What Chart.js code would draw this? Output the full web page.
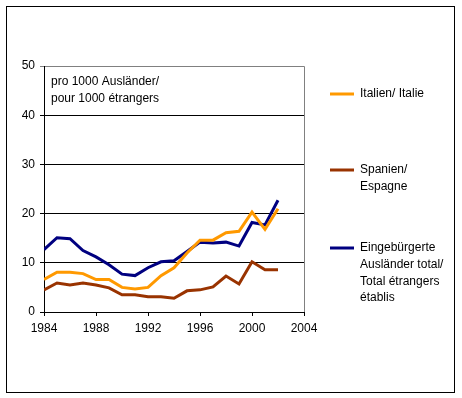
<!DOCTYPE html>
<html>
<head>
<meta charset="utf-8">
<script src="https://cdn.jsdelivr.net/npm/chart.js@4/dist/chart.umd.min.js"></script>
<style>
  html, body { margin: 0; padding: 0; background: #fff; }
  #wrap { position: relative; width: 462px; height: 398px; }
</style>
</head>
<body>
<div id="wrap"><canvas id="chart" width="462" height="398"></canvas></div>
<script>
// data
const years = [1984, 1985, 1986, 1987, 1988, 1989, 1990, 1991, 1992, 1993,
               1994, 1995, 1996, 1997, 1998, 1999, 2000, 2001, 2002];
const italien = [6.6, 8.1, 8.1, 7.8, 6.6, 6.6, 5.0, 4.7, 5.0, 7.4,
                 9.0, 12.0, 14.6, 14.6, 16.1, 16.4, 20.3, 16.8, 21.0];
const spanien = [4.5, 5.9, 5.5, 5.9, 5.5, 4.9, 3.5, 3.5, 3.1, 3.1,
                 2.8, 4.3, 4.5, 5.1, 7.3, 5.7, 10.2, 8.6, 8.6];
const total = [12.7, 15.1, 14.9, 12.5, 11.2, 9.6, 7.7, 7.4, 9.0, 10.2,
               10.4, 12.3, 14.2, 14.0, 14.2, 13.4, 18.2, 17.7, 22.7];
const seriesLabels = [
  ["Italien/ Italie"],
  ["Spanien/", "Espagne"],
  ["Eingebürgerte", "Ausländer total/", "Total étrangers", "établis"]
];
const noteLines = ["pro 1000 Ausländer/", "pour 1000 étrangers"];

const FONT = "12px 'Liberation Sans', Arial, sans-serif";

const toPoints = arr => arr.map((v, i) => ({ x: years[i], y: v }));

// frame, plot border, note and legend
const decor = {
  id: "decor",
  beforeDraw(chart) {
    const { ctx, chartArea: a } = chart;
    ctx.save();
    ctx.fillStyle = "#fff";
    ctx.fillRect(0, 0, chart.width, chart.height);
    ctx.strokeStyle = "#000";
    ctx.lineWidth = 1;
    ctx.strokeRect(6.5, 6.5, 448, 386);
    ctx.strokeStyle = "#808080";
    ctx.beginPath();
    ctx.moveTo(a.left, a.top + 0.5);
    ctx.lineTo(a.right + 0.5, a.top + 0.5);
    ctx.lineTo(a.right + 0.5, a.bottom);
    ctx.stroke();
    ctx.restore();
  },
  afterDraw(chart) {
    const { ctx, chartArea: a } = chart;
    ctx.save();
    ctx.font = FONT;
    ctx.fillStyle = "#000";
    ctx.textBaseline = "middle";
    noteLines.forEach((t, i) => ctx.fillText(t, a.left + 7, 82 + i * 17));

    const starts = [94, 170, 248];
    chart.data.datasets.forEach((ds, i) => {
      const y = starts[i];
      ctx.strokeStyle = ds.borderColor;
      ctx.lineWidth = 3;
      ctx.beginPath();
      ctx.moveTo(330, y);
      ctx.lineTo(354, y);
      ctx.stroke();
      ctx.fillStyle = "#000";
      seriesLabels[i].forEach((t, j) => ctx.fillText(t, 360, y + j * 16.7));
    });
    ctx.restore();
  }
};

new Chart(document.getElementById("chart"), {
  type: "line",
  data: {
    datasets: [
      { label: seriesLabels[0].join(" "), data: toPoints(italien), borderColor: "#FF9900" },
      { label: seriesLabels[1].join(" "), data: toPoints(spanien), borderColor: "#993300" },
      { label: seriesLabels[2].join(" "), data: toPoints(total), borderColor: "#000080" }
    ].map(d => Object.assign(d, { borderWidth: 3, pointRadius: 0, tension: 0, fill: false }))
  },
  options: {
    responsive: false,
    animation: false,
    layout: { padding: { top: 66, right: 158, left: 0, bottom: 0 } },
    plugins: { legend: { display: false }, tooltip: { enabled: false } },
    scales: {
      x: {
        type: "linear",
        min: 1984,
        max: 2004,
        afterFit: s => { s.height = 86; },
        ticks: {
          stepSize: 4,
          color: "#000",
          font: { family: "'Liberation Sans', Arial, sans-serif", size: 12 },
          padding: 5,
          maxRotation: 0,
          callback: v => String(v)
        },
        grid: { drawOnChartArea: false, color: "#000", tickLength: 4 },
        border: { color: "#000" }
      },
      y: {
        min: 0,
        max: 50,
        afterFit: s => { s.width = 44; },
        ticks: {
          stepSize: 10,
          color: "#000",
          font: { family: "'Liberation Sans', Arial, sans-serif", size: 12 },
          padding: 5
        },
        grid: {
          color: c => (c.tick && c.tick.value === 50 ? "#808080" : "#000"),
          tickLength: 4
        },
        border: { color: "#000" }
      }
    }
  },
  plugins: [decor]
});
</script>
</body>
</html>
